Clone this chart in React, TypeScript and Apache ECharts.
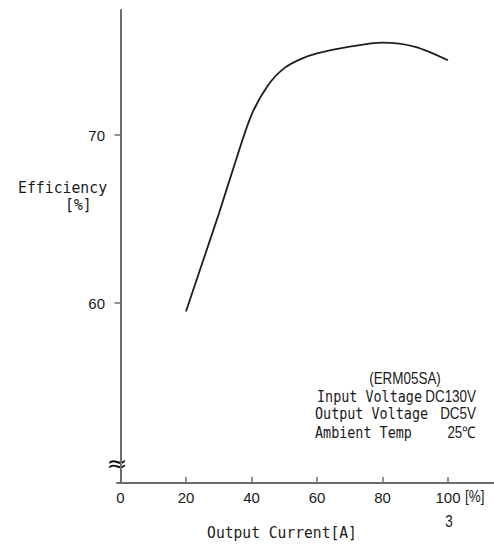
import React, { useEffect, useRef } from "react";
import * as echarts from "echarts";

const currentPct = [20, 25, 30, 35, 40, 45, 50, 55, 60, 70, 80, 90, 100];
const efficiency = [59.5, 62.4, 65.3, 68.35, 71.2, 72.95, 73.98, 74.52, 74.86, 75.26, 75.5, 75.25, 74.45];
const xTickValues = [20, 40, 60, 80, 100];
const xLabelValues = [0, 20, 40, 60, 80, 100];
const yTickValues = [60, 70];

const MONO = "'DejaVu Sans Mono', monospace";
const SANS = "'Liberation Sans', Arial, sans-serif";

export default function App() {
  const ref = useRef<HTMLDivElement>(null);
  useEffect(() => {
    if (!ref.current) return;
    const chart = echarts.init(ref.current, null, { renderer: "svg" });
    const axisColor = "#6e6e6e";
    const textColor = "#1a1a1a";
    const monoText = (text: string, x: number, y: number, size: number, sx: number, align = "left") => ({
      type: "text",
      x,
      y,
      scaleX: sx,
      style: { text, fontFamily: MONO, fontSize: size, fill: textColor, textAlign: align, textVerticalAlign: "middle" },
    });
    const sansText = (text: string, x: number, y: number, size: number, align = "left") => ({
      type: "text",
      x,
      y,
      scaleX: 0.84,
      style: { text, fontFamily: SANS, fontSize: size, fill: textColor, textAlign: align, textVerticalAlign: "middle" },
    });
    chart.setOption({
      animation: false,
      backgroundColor: "#ffffff",
      grid: { left: 117, right: 0, top: 10, bottom: 62, containLabel: false, outerBoundsMode: "none" },
      xAxis: {
        type: "value",
        min: -1.07,
        max: 114.05,
        splitLine: { show: false },
        axisLine: { show: true, lineStyle: { color: axisColor, width: 2 } },
        axisTick: { show: true, inside: true, length: 6, customValues: xTickValues, lineStyle: { color: axisColor, width: 1.5 } },
        axisLabel: { customValues: xLabelValues, margin: 7, fontFamily: SANS, fontSize: 15, color: textColor },
      },
      yAxis: {
        type: "value",
        min: 49.29,
        max: 77.44,
        splitLine: { show: false },
        axisLine: { show: true, lineStyle: { color: axisColor, width: 2 } },
        axisTick: { show: true, inside: false, length: 6, customValues: yTickValues, lineStyle: { color: axisColor, width: 1.5 } },
        axisLabel: { customValues: yTickValues, margin: 12, fontFamily: SANS, fontSize: 15, color: textColor },
      },
      series: [
        {
          type: "line",
          data: currentPct.map((x, i) => [x, efficiency[i]]),
          smooth: 0.3,
          showSymbol: false,
          lineStyle: { color: "#1e1e1e", width: 1.8 },
        },
      ],
      graphic: [
        monoText("Efficiency", 18, 188, 16, 0.925),
        monoText("[%]", 65, 205, 16, 0.925),
        monoText("Output Current[A]", 282, 533, 16, 0.916, "center"),
        sansText("[%]", 465, 497, 16),
        sansText("3", 449, 522, 16, "center"),
        sansText("(ERM05SA)", 405, 379, 16, "center"),
        monoText("Input Voltage", 317, 396.5, 15, 0.895),
        sansText("DC130V", 476, 396.5, 16, "right"),
        monoText("Output Voltage", 315, 414, 15, 0.895),
        sansText("DC5V", 476, 414, 16, "right"),
        monoText("Ambient Temp", 315, 432.5, 15, 0.895),
        sansText("25℃", 476, 432.5, 16, "right"),
        {
          type: "text",
          x: 117,
          y: 463,
          style: { text: "≈", fontFamily: "'DejaVu Sans', sans-serif", fontSize: 25, fill: "#111", textAlign: "center", textVerticalAlign: "middle" },
        },
      ],
    });
    return () => chart.dispose();
  }, []);
  return <div ref={ref} style={{ position: "fixed", left: 0, top: 0, width: 494, height: 545 }} />;
}
